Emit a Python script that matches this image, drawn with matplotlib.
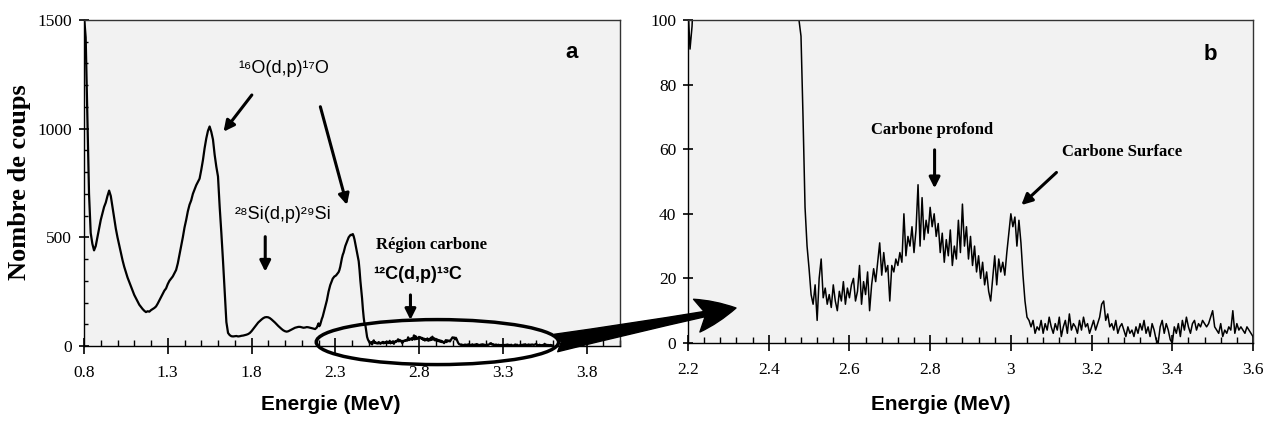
import numpy as np
import matplotlib
matplotlib.use('Agg')
import matplotlib.pyplot as plt
from matplotlib.patches import Ellipse, FancyArrowPatch
from matplotlib.ticker import MultipleLocator

# Spectre brut : region 0.80 - 2.19 MeV (pas 0.01 MeV)
e_main = np.round(np.arange(0.80, 2.195, 0.01), 3)
counts_main = [
    1520, 1420, 1050, 700, 520, 470, 440, 460, 500, 540, 580, 610, 640, 660, 690, 715, 690, 640, 590, 540,
    500, 465, 430, 395, 365, 340, 315, 295, 275, 255, 235, 220, 205, 190, 180, 170, 162, 156, 160, 158,
    165, 170, 175, 182, 195, 210, 225, 240, 255, 265, 285, 300, 310, 320, 335, 350, 380, 420, 460, 500,
    545, 580, 620, 650, 670, 700, 720, 740, 755, 770, 810, 855, 910, 955, 990, 1010, 985, 950, 880, 825,
    780, 640, 520, 390, 250, 110, 60, 50, 45, 44, 45, 46, 44, 45, 47, 48, 50, 52, 55, 60,
    68, 78, 88, 98, 108, 115, 122, 128, 132, 133, 132, 128, 122, 115, 108, 100, 92, 85, 78, 72,
    68, 66, 68, 72, 76, 80, 84, 86, 88, 88, 86, 84, 85, 87, 86, 84, 82, 80, 78, 85,
]

# Region carbone : 2.200 - 3.600 MeV (pas 0.005 MeV)
e_zoom = np.round(np.arange(2.200, 3.6025, 0.005), 3)
counts_zoom = [
    104, 91, 98, 112, 125, 135, 150, 165, 180, 195, 210, 230, 250, 265, 280, 290, 300, 310, 315, 320,
    322, 325, 330, 335, 340, 350, 365, 385, 405, 420, 430, 445, 460, 470, 480, 490, 500, 505, 510, 512,
    510, 515, 505, 490, 470, 450, 430, 410, 390, 350, 300, 260, 220, 170, 130, 100, 95, 70, 42, 30,
    23, 15, 12, 18, 7, 20, 26, 14, 17, 12, 15, 11, 18, 13, 10, 16, 13, 19, 12, 17,
    14, 18, 20, 13, 16, 24, 12, 19, 15, 22, 10, 18, 23, 19, 25, 31, 21, 28, 22, 24,
    13, 24, 22, 26, 24, 28, 25, 40, 27, 33, 30, 36, 28, 35, 49, 30, 45, 32, 38, 34,
    42, 36, 40, 33, 37, 28, 34, 25, 32, 27, 35, 24, 30, 26, 38, 28, 43, 30, 36, 26,
    33, 24, 30, 22, 27, 20, 25, 18, 22, 16, 13, 20, 27, 18, 26, 22, 25, 21, 28, 34,
    40, 36, 39, 30, 38, 31, 21, 13, 8, 7, 5, 7, 3, 5, 4, 7, 3, 6, 4, 8,
    5, 3, 6, 4, 8, 2, 5, 7, 3, 9, 4, 6, 5, 3, 7, 4, 8, 5, 6, 3,
    5, 7, 4, 6, 8, 12, 13, 7, 9, 5, 6, 4, 7, 3, 5, 6, 4, 2, 5, 3,
    4, 2, 5, 3, 6, 4, 7, 3, 5, 2, 6, 4, 1, 0, 5, 7, 3, 6, 4, 1,
    0, 5, 3, 6, 2, 7, 4, 8, 5, 3, 6, 7, 4, 6, 5, 7, 6, 5, 6, 8,
    10, 5, 4, 3, 6, 2, 4, 3, 5, 4, 10, 3, 6, 4, 5, 4, 3, 5, 4, 3,
    2,
]

xticks_a = [0.8, 1.3, 1.8, 2.3, 2.8, 3.3, 3.8]
xticks_b = [2.2, 2.4, 2.6, 2.8, 3.0, 3.2, 3.4, 3.6]
xlabels_b = ['2.2', '2.4', '2.6', '2.8', '3', '3.2', '3.4', '3.6']

serif = ['Liberation Serif', 'DejaVu Serif']
sans = ['Liberation Sans', 'DejaVu Sans']
bg = '#f2f2f2'

fig = plt.figure(figsize=(12.68, 4.30), dpi=100)
fig.patch.set_facecolor('white')

ax1 = fig.add_axes([84/1268, 84/430, 536/1268, 326/430])
ax2 = fig.add_axes([688/1268, 87/430, 565/1268, 323/430])

energies = np.concatenate([e_main, e_zoom])
counts = np.concatenate([counts_main, counts_zoom])

ax1.plot(energies, counts, color='black', lw=1.6)
ax2.plot(e_zoom, counts_zoom, color='black', lw=1.1)

ax1.set_xlim(0.8, 4.0)
ax1.set_ylim(0, 1500)
ax2.set_xlim(2.2, 3.6)
ax2.set_ylim(0, 100)

for ax in (ax1, ax2):
    ax.set_facecolor(bg)
    for s in ax.spines.values():
        s.set_color('#333333')
        s.set_linewidth(1.0)
    ax.spines['left'].set_color('black')
    ax.spines['bottom'].set_color('black')
    ax.tick_params(axis='x', which='major', direction='inout', length=12, width=1.2, pad=8)
    ax.tick_params(axis='x', which='minor', direction='in', length=4, width=1)
    ax.tick_params(axis='y', which='major', direction='inout', length=7, width=1.2, pad=5)
    ax.tick_params(axis='y', which='minor', direction='in', length=3, width=1)
    ax.tick_params(top=False, right=False)

ax1.set_xticks(xticks_a)
ax1.set_xticklabels([str(t) for t in xticks_a], family=serif, fontsize=12.5)
ax1.xaxis.set_minor_locator(MultipleLocator(0.1))
ax1.set_yticks([0, 500, 1000, 1500])
ax1.set_yticklabels(['0', '500', '1000', '1500'], family=serif, fontsize=12.5)
ax1.yaxis.set_minor_locator(MultipleLocator(100))

ax2.set_xticks(xticks_b)
ax2.set_xticklabels(xlabels_b, family=serif, fontsize=12.5)
ax2.xaxis.set_minor_locator(MultipleLocator(0.04))
ax2.set_yticks([0, 20, 40, 60, 80, 100])
ax2.set_yticklabels(['0', '20', '40', '60', '80', '100'], family=serif, fontsize=12.5)

# titres des axes
fig.text(20/1268, 1 - 182/430, 'Nombre de coups', rotation=90, ha='center', va='center',
         family=serif, fontweight='bold', fontsize=19)
fig.text(331/1268, 1 - 404/430, 'Energie (MeV)', ha='center', va='center',
         family=sans, fontweight='bold', fontsize=15)
fig.text(941/1268, 1 - 404/430, 'Energie (MeV)', ha='center', va='center',
         family=sans, fontweight='bold', fontsize=15)

fig.text(572/1268, 1 - 52/430, 'a', ha='center', va='center',
         family=sans, fontweight='bold', fontsize=16)
fig.text(1210/1268, 1 - 55/430, 'b', ha='center', va='center',
         family=sans, fontweight='bold', fontsize=16)

arrow = dict(arrowstyle='-|>', color='black', lw=2.2, mutation_scale=16, shrinkA=0, shrinkB=0)

# panneau a
ax1.text(1.99, 1275, '¹⁶O(d,p)¹⁷O', ha='center', va='center', family=sans, fontsize=13)
ax1.annotate('', xy=(1.633, 986), xytext=(1.802, 1155), arrowprops=arrow)
ax1.annotate('', xy=(2.370, 649), xytext=(2.211, 1101), arrowprops=arrow)
ax1.text(1.99, 603, '²⁸Si(d,p)²⁹Si', ha='center', va='center', family=sans, fontsize=13)
ax1.annotate('', xy=(1.882, 342), xytext=(1.882, 503), arrowprops=arrow)
ax1.text(2.874, 465, 'Région carbone', ha='center', va='center', family=serif,
         fontweight='bold', fontsize=12)
ax1.text(2.79, 331, '¹²C(d,p)¹³C', ha='center', va='center', family=sans,
         fontweight='bold', fontsize=13)
ax1.annotate('', xy=(2.749, 120), xytext=(2.749, 235), arrowprops=arrow)
ax1.add_patch(Ellipse((2.91, 18), 1.447, 207, fill=False, lw=2.5, color='black', clip_on=False, zorder=5))

# panneau b
ax2.text(2.804, 65.9, 'Carbone profond', ha='center', va='center', family=serif,
         fontweight='bold', fontsize=12)
ax2.annotate('', xy=(2.811, 47.9), xytext=(2.811, 59.8), arrowprops=arrow)
ax2.text(3.275, 59.2, 'Carbone Surface', ha='center', va='center', family=serif,
         fontweight='bold', fontsize=12)
ax2.annotate('', xy=(3.026, 42.7), xytext=(3.113, 52.8), arrowprops=arrow)

# grosse fleche entre les deux panneaux
big = FancyArrowPatch((556/1268, 1 - 343/430), (736/1268, 1 - 308/430),
                      transform=fig.transFigure,
                      arrowstyle='fancy,head_length=0.9,head_width=0.75,tail_width=0.4',
                      mutation_scale=32, color='black', zorder=10,
                      shrinkA=0, shrinkB=0)
fig.add_artist(big)

fig.savefig('out.png', dpi=100)
